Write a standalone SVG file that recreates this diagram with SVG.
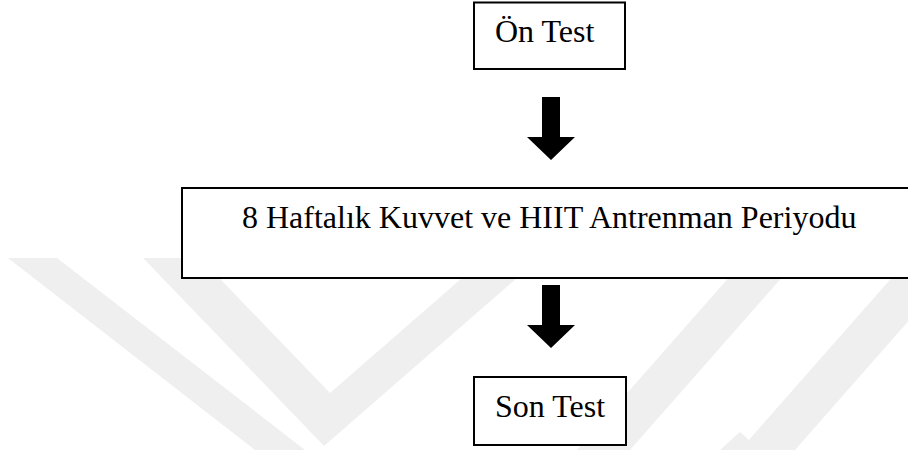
<svg xmlns="http://www.w3.org/2000/svg" width="908" height="450" viewBox="0 0 908 450">
<style>
.wm{fill:#efefef}
.box{fill:#ffffff;stroke:#000000;stroke-width:2}
.lbl{font-family:"Liberation Serif","Times New Roman",serif;font-size:32px;fill:#000000}
.arr{fill:#000000}
</style>
<rect x="0" y="0" width="908" height="450" fill="#ffffff"/>
<g id="watermark">
<polygon class="wm" points="8,258 57,258 305,450 255,450"/>
<polygon class="wm" points="143,258 200,258 330,393 485,258 540,258 324,446"/>
<polygon class="wm" points="577,450 630,450 799,258 746,258"/>
<polygon class="wm" points="740,450 795,450 964,258 909,258"/>
<polygon class="wm" points="740,432 760,450 720,450"/>
</g>
<g id="connectors">
<polygon class="arr" points="542,97 560,97 560,137 575,137 551,160 527,137 542,137"/>
<polygon class="arr" points="542,285 560,285 560,325 575,325 551,348 527,325 542,325"/>
</g>
<g id="node-on-test">
<rect class="box" x="474" y="2.5" width="151" height="66.5"/>
<text class="lbl" x="495" y="42">Ön Test</text>
</g>
<g id="node-antrenman">
<rect class="box" x="182" y="188" width="760" height="90"/>
<text class="lbl" x="242" y="228">8 Haftalık Kuvvet ve HIIT Antrenman Periyodu</text>
</g>
<g id="node-son-test">
<rect class="box" x="474" y="377" width="152" height="68"/>
<text class="lbl" x="495" y="417">Son Test</text>
</g>
</svg>
